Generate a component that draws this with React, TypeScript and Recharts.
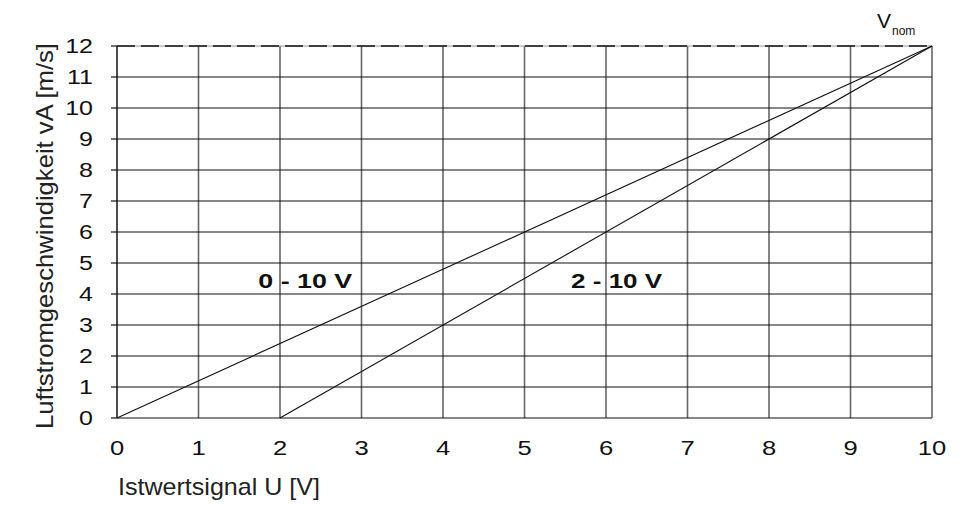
import { LineChart, Line, XAxis, YAxis, ReferenceLine, ReferenceDot, Label } from "recharts";

const xTicks = [0, 1, 2, 3, 4, 5, 6, 7, 8, 9, 10];
const yTicks = [0, 1, 2, 3, 4, 5, 6, 7, 8, 9, 10, 11, 12];

// signal voltage U [V] and air velocity vA [m/s] for both ranges
const range0to10U = [0, 10];
const range0to10V = [0, 12];
const range2to10U = [2, 10];
const range2to10V = [0, 12];

const rangeNames = ["0 - 10 V", "2 - 10 V"];
const rangeLabelU = [2.31, 6.13];
const rangeLabelV = [4.45, 4.45];
const rangeLabelWidth = [94, 91];

const vNom = 12;

const font = '"Liberation Sans", Arial, Helvetica, sans-serif';

const toPoints = (us: number[], vs: number[]) => us.map((u, i) => ({ u, v: vs[i] }));
const series0to10 = toPoints(range0to10U, range0to10V);
const series2to10 = toPoints(range2to10U, range2to10V);

const XTick = (props: any) => {
  const { x, y, payload } = props;
  return (
    <g transform={`translate(${x},${y})`}>
      <text transform="scale(1.28,1)" textAnchor="middle" dy="0.72em" fontSize={20} fontFamily={font} fill="#111">
        {payload.value}
      </text>
    </g>
  );
};

const YTick = (props: any) => {
  const { x, y, payload } = props;
  return (
    <g transform={`translate(${x},${y})`}>
      <text transform="scale(1.25,1)" textAnchor="end" dy="0.36em" fontSize={20} fontFamily={font} fill="#111">
        {payload.value}
      </text>
    </g>
  );
};

export default function App() {
  return (
    <div style={{ position: "absolute", left: 0, top: 0, background: "#fff" }}>
      <LineChart width={963} height={506} margin={{ top: 46, right: 31, bottom: 0, left: 0 }}>
        <XAxis
          type="number"
          dataKey="u"
          domain={[0, 10]}
          ticks={xTicks}
          axisLine={false}
          tickLine={false}
          tickSize={0}
          tickMargin={23}
          height={88}
          tick={<XTick />}
          interval={0}
        >
          <Label
            content={(p: any) => (
              <text
                x={p.viewBox.x + 1}
                y={p.viewBox.y + 77}
                fontSize={24}
                fontFamily={font}
                fill="#222"
                textLength={202}
                lengthAdjust="spacingAndGlyphs"
              >
                Istwertsignal U [V]
              </text>
            )}
          />
        </XAxis>
        <YAxis
          type="number"
          dataKey="v"
          domain={[0, 12]}
          ticks={yTicks}
          axisLine={false}
          tickLine={{ stroke: "#111", strokeWidth: 1.2 }}
          tickSize={6}
          tickMargin={18}
          width={117}
          tick={<YTick />}
          interval={0}
        >
          <Label
            content={(p: any) => {
              const cx = 53;
              const cy = 236;
              return (
                <text
                  x={cx}
                  y={cy}
                  transform={`rotate(-90 ${cx} ${cy})`}
                  textAnchor="middle"
                  fontSize={24}
                  fontFamily={font}
                  fill="#222"
                  textLength={386}
                  lengthAdjust="spacingAndGlyphs"
                >
                  Luftstromgeschwindigkeit vA [m/s]
                </text>
              );
            }}
          />
        </YAxis>

        {xTicks.map((t) => (
          <ReferenceLine key={`vx${t}`} x={t} stroke={t === 0 ? "#222" : "#666"} strokeWidth={1.6} />
        ))}
        {yTicks
          .filter((t) => t < vNom)
          .map((t) => (
            <ReferenceLine key={`hy${t}`} y={t} stroke="#111" strokeWidth={1.2} />
          ))}
        <ReferenceLine y={vNom} stroke="#999" strokeWidth={1.2} />
        <ReferenceLine y={vNom} stroke="#111" strokeWidth={1.6} strokeDasharray="18 6" />

        <Line
          data={series0to10}
          dataKey="v"
          stroke="#111"
          strokeWidth={1.1}
          dot={false}
          isAnimationActive={false}
        />
        <Line
          data={series2to10}
          dataKey="v"
          stroke="#111"
          strokeWidth={1.1}
          dot={false}
          isAnimationActive={false}
        />

        {rangeNames.map((name, i) => (
          <ReferenceDot
            key={name}
            x={rangeLabelU[i]}
            y={rangeLabelV[i]}
            r={1}
            shape={(p: any) => (
              <text
                x={p.cx}
                y={p.cy}
                dy="0.36em"
                textAnchor="middle"
                fontSize={21}
                fontWeight="bold"
                fontFamily={font}
                fill="#111"
                textLength={rangeLabelWidth[i]}
                lengthAdjust="spacingAndGlyphs"
              >
                {name}
              </text>
            )}
          />
        ))}
        <ReferenceDot
          x={10}
          y={vNom}
          r={1}
          shape={(p: any) => (
            <text x={p.cx - 55} y={p.cy - 18.5} fontSize={21} fontFamily={font} fill="#111">
              V
              <tspan dx={1} dy={7} fontSize={12}>
                nom
              </tspan>
            </text>
          )}
        />
      </LineChart>
    </div>
  );
}
